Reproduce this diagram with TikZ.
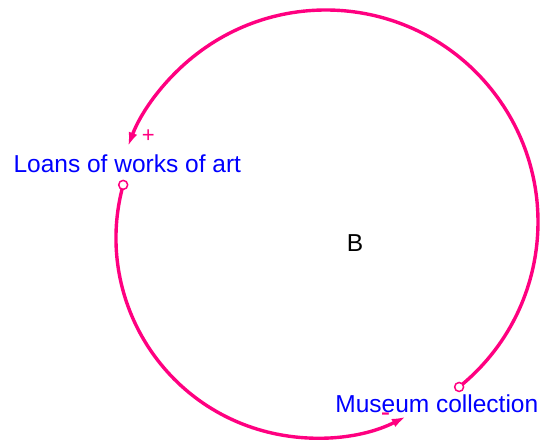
\documentclass[tikz,border=0pt]{standalone}
\usepackage{fontspec}
\setmainfont{Liberation Sans}
\usetikzlibrary{arrows.meta,calc}
\definecolor{linkpink}{RGB}{255,0,128}
\definecolor{varblue}{RGB}{0,0,255}
\begin{document}
\begin{tikzpicture}[x=1pt,y=1pt,
  varlabel/.style={inner sep=0pt,text=varblue,font=\fontsize{24.5}{29}\selectfont},
  looplabel/.style={inner sep=0pt,text=black,font=\fontsize{24.5}{29}\selectfont},
  polsign/.style={inner sep=0pt,text=linkpink,font=\fontsize{22}{26}\selectfont},
  causallink/.style={draw=linkpink,line width=3.4pt,-{Latex[length=14pt,width=9pt]}},
  tailmark/.style={draw=linkpink,fill=white,line width=1.5pt,circle,inner sep=0pt,minimum size=9pt}]
\useasboundingbox (0,0) rectangle (541,443);
% labels
\node[varlabel,anchor=base west] (loans) at (13.4,270.3) {Loans of works of art};
\node[varlabel,anchor=base west] (museum) at (335.2,30.3) {Museum collection};
\node[looplabel,anchor=base] (loopB) at (355,191.3) {B};
% arc centres
\coordinate (c1) at (326,221);
\coordinate (c2) at (316,205);
\coordinate (tailM) at ($(c1)+(-51.1:212)$);
\coordinate (tailL) at ($(c2)+(164.6:200)$);
% links
\draw[causallink] (tailM) arc[start angle=-51.1,end angle=159.1,radius=212];
\draw[causallink] (tailL) arc[start angle=164.6,end angle=296.7,radius=200];
\node[tailmark] (tailMc) at (tailM) {};
\node[tailmark] (tailLc) at (tailL) {};
% polarities
\node[polsign] (plus) at (148.3,307) {+};
\node[polsign,font=\fontsize{28}{30}\selectfont,anchor=base] (minus) at (385.5,21) {-};
\end{tikzpicture}
\end{document}
